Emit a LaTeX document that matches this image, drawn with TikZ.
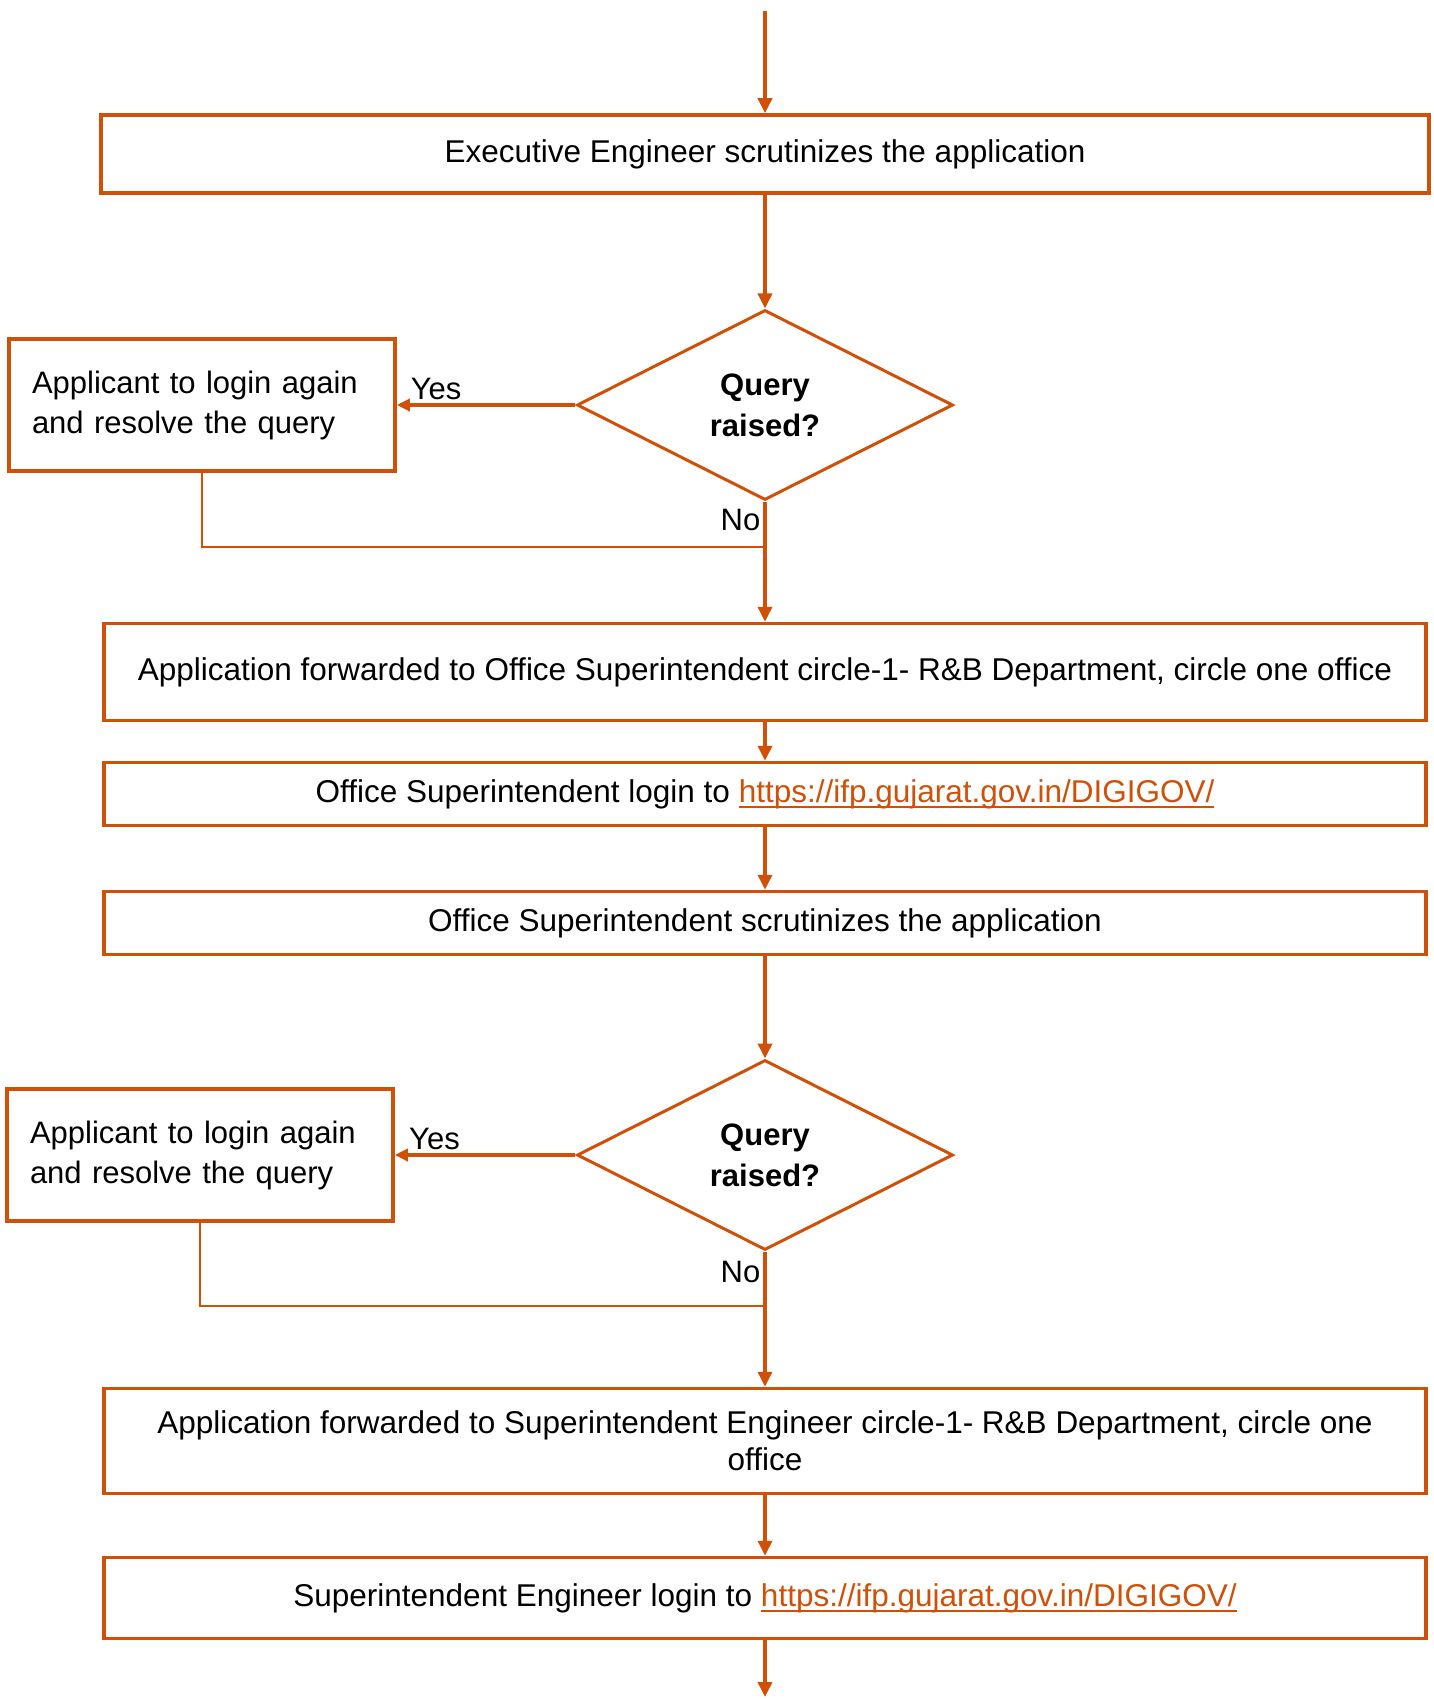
\documentclass[tikz,border=0pt]{standalone}
\usepackage{fontspec}
\setmainfont{Liberation Sans}
\usetikzlibrary{shapes.geometric,arrows.meta,positioning}
\definecolor{flowc}{RGB}{208,80,8}
\newcommand{\weblink}[1]{\textcolor{flowc}{\setbox0\hbox{#1}\rlap{\rule[-6pt]{\wd0}{2.5pt}}\box0}}
\tikzset{
  box/.style={draw=flowc, line width=3.5pt, minimum width=1322pt, align=center, inner sep=0pt, font=\fontsize{31.5}{37}\selectfont},
  sidebox/.style={draw=flowc, line width=3.5pt, minimum width=386pt, minimum height=132pt, text width=340pt, align=left, inner sep=0pt, font=\fontsize{31}{40}\selectfont},
  decision/.style={diamond, draw=flowc, line width=3pt, minimum width=376pt, minimum height=190pt, aspect=2, inner sep=0pt, align=center, font=\bfseries\fontsize{31}{41}\selectfont},
  flow/.style={->, draw=flowc, line width=3.5pt},
  loopback/.style={draw=flowc, line width=1.6pt},
  answer/.style={font=\fontsize{31}{36}\selectfont, inner sep=3pt}
}
\begin{document}
\begin{tikzpicture}[>={Triangle[length=15pt,width=14pt]}]
  \useasboundingbox (0,0) rectangle (1434pt,-1699pt);

  \node[box, minimum width=1328pt, minimum height=78pt] (ee) at (765pt,-154pt) {Executive Engineer scrutinizes the application};
  \node[decision] (q1) [node distance=251pt, below of=ee] {Query\\raised?};
  \node[sidebox] (app1) [node distance=563pt, left of=q1] {Applicant to login again\\and resolve the query};
  \node[box, minimum height=97pt] (fwd1) [node distance=267pt, below of=q1] {Application forwarded to Office Superintendent circle-1- R\&B Department, circle one office};
  \node[box, minimum height=63pt] (login1) [node distance=122pt, below of=fwd1] {Office Superintendent login to \weblink{https://ifp.gujarat.gov.in/DIGIGOV/}};
  \node[box, minimum height=63pt] (scr1) [node distance=129pt, below of=login1] {Office Superintendent scrutinizes the application};
  \node[decision] (q2) [node distance=232pt, below of=scr1] {Query\\raised?};
  \node[sidebox] (app2) [node distance=565pt, left of=q2] {Applicant to login again\\and resolve the query};
  \node[box, minimum height=105pt] (fwd2) [node distance=286pt, below of=q2] {Application forwarded to Superintendent Engineer circle-1- R\&B Department, circle one\\office};
  \node[box, minimum height=81pt] (login2) [node distance=157pt, below of=fwd2] {Superintendent Engineer login to \weblink{https://ifp.gujarat.gov.in/DIGIGOV/}};

  \coordinate[node distance=143pt, above of=ee] (start);
  \coordinate[node distance=142pt, below of=q1] (j1);
  \coordinate[node distance=151pt, below of=q2] (j2);
  \coordinate[node distance=99pt, below of=login2] (stop);

  \draw[flow] (start) -- (ee);
  \draw[flow] (ee) -- (q1);
  \draw[flow, line width=4pt, >={Triangle[length=13pt,width=12pt]}] (q1) -- node[answer, above, pos=0.78] {Yes} (app1);
  \draw[flow] (q1) -- node[answer, left, pos=0.15] {No} (fwd1);
  \draw[loopback] (app1) |- (j1);
  \draw[flow] (fwd1) -- (login1);
  \draw[flow] (login1) -- (scr1);
  \draw[flow] (scr1) -- (q2);
  \draw[flow, line width=4pt, >={Triangle[length=13pt,width=12pt]}] (q2) -- node[answer, above, pos=0.78] {Yes} (app2);
  \draw[flow] (q2) -- node[answer, left, pos=0.15] {No} (fwd2);
  \draw[loopback] (app2) |- (j2);
  \draw[flow] (fwd2) -- (login2);
  \draw[flow] (login2) -- (stop);
\end{tikzpicture}
\end{document}
